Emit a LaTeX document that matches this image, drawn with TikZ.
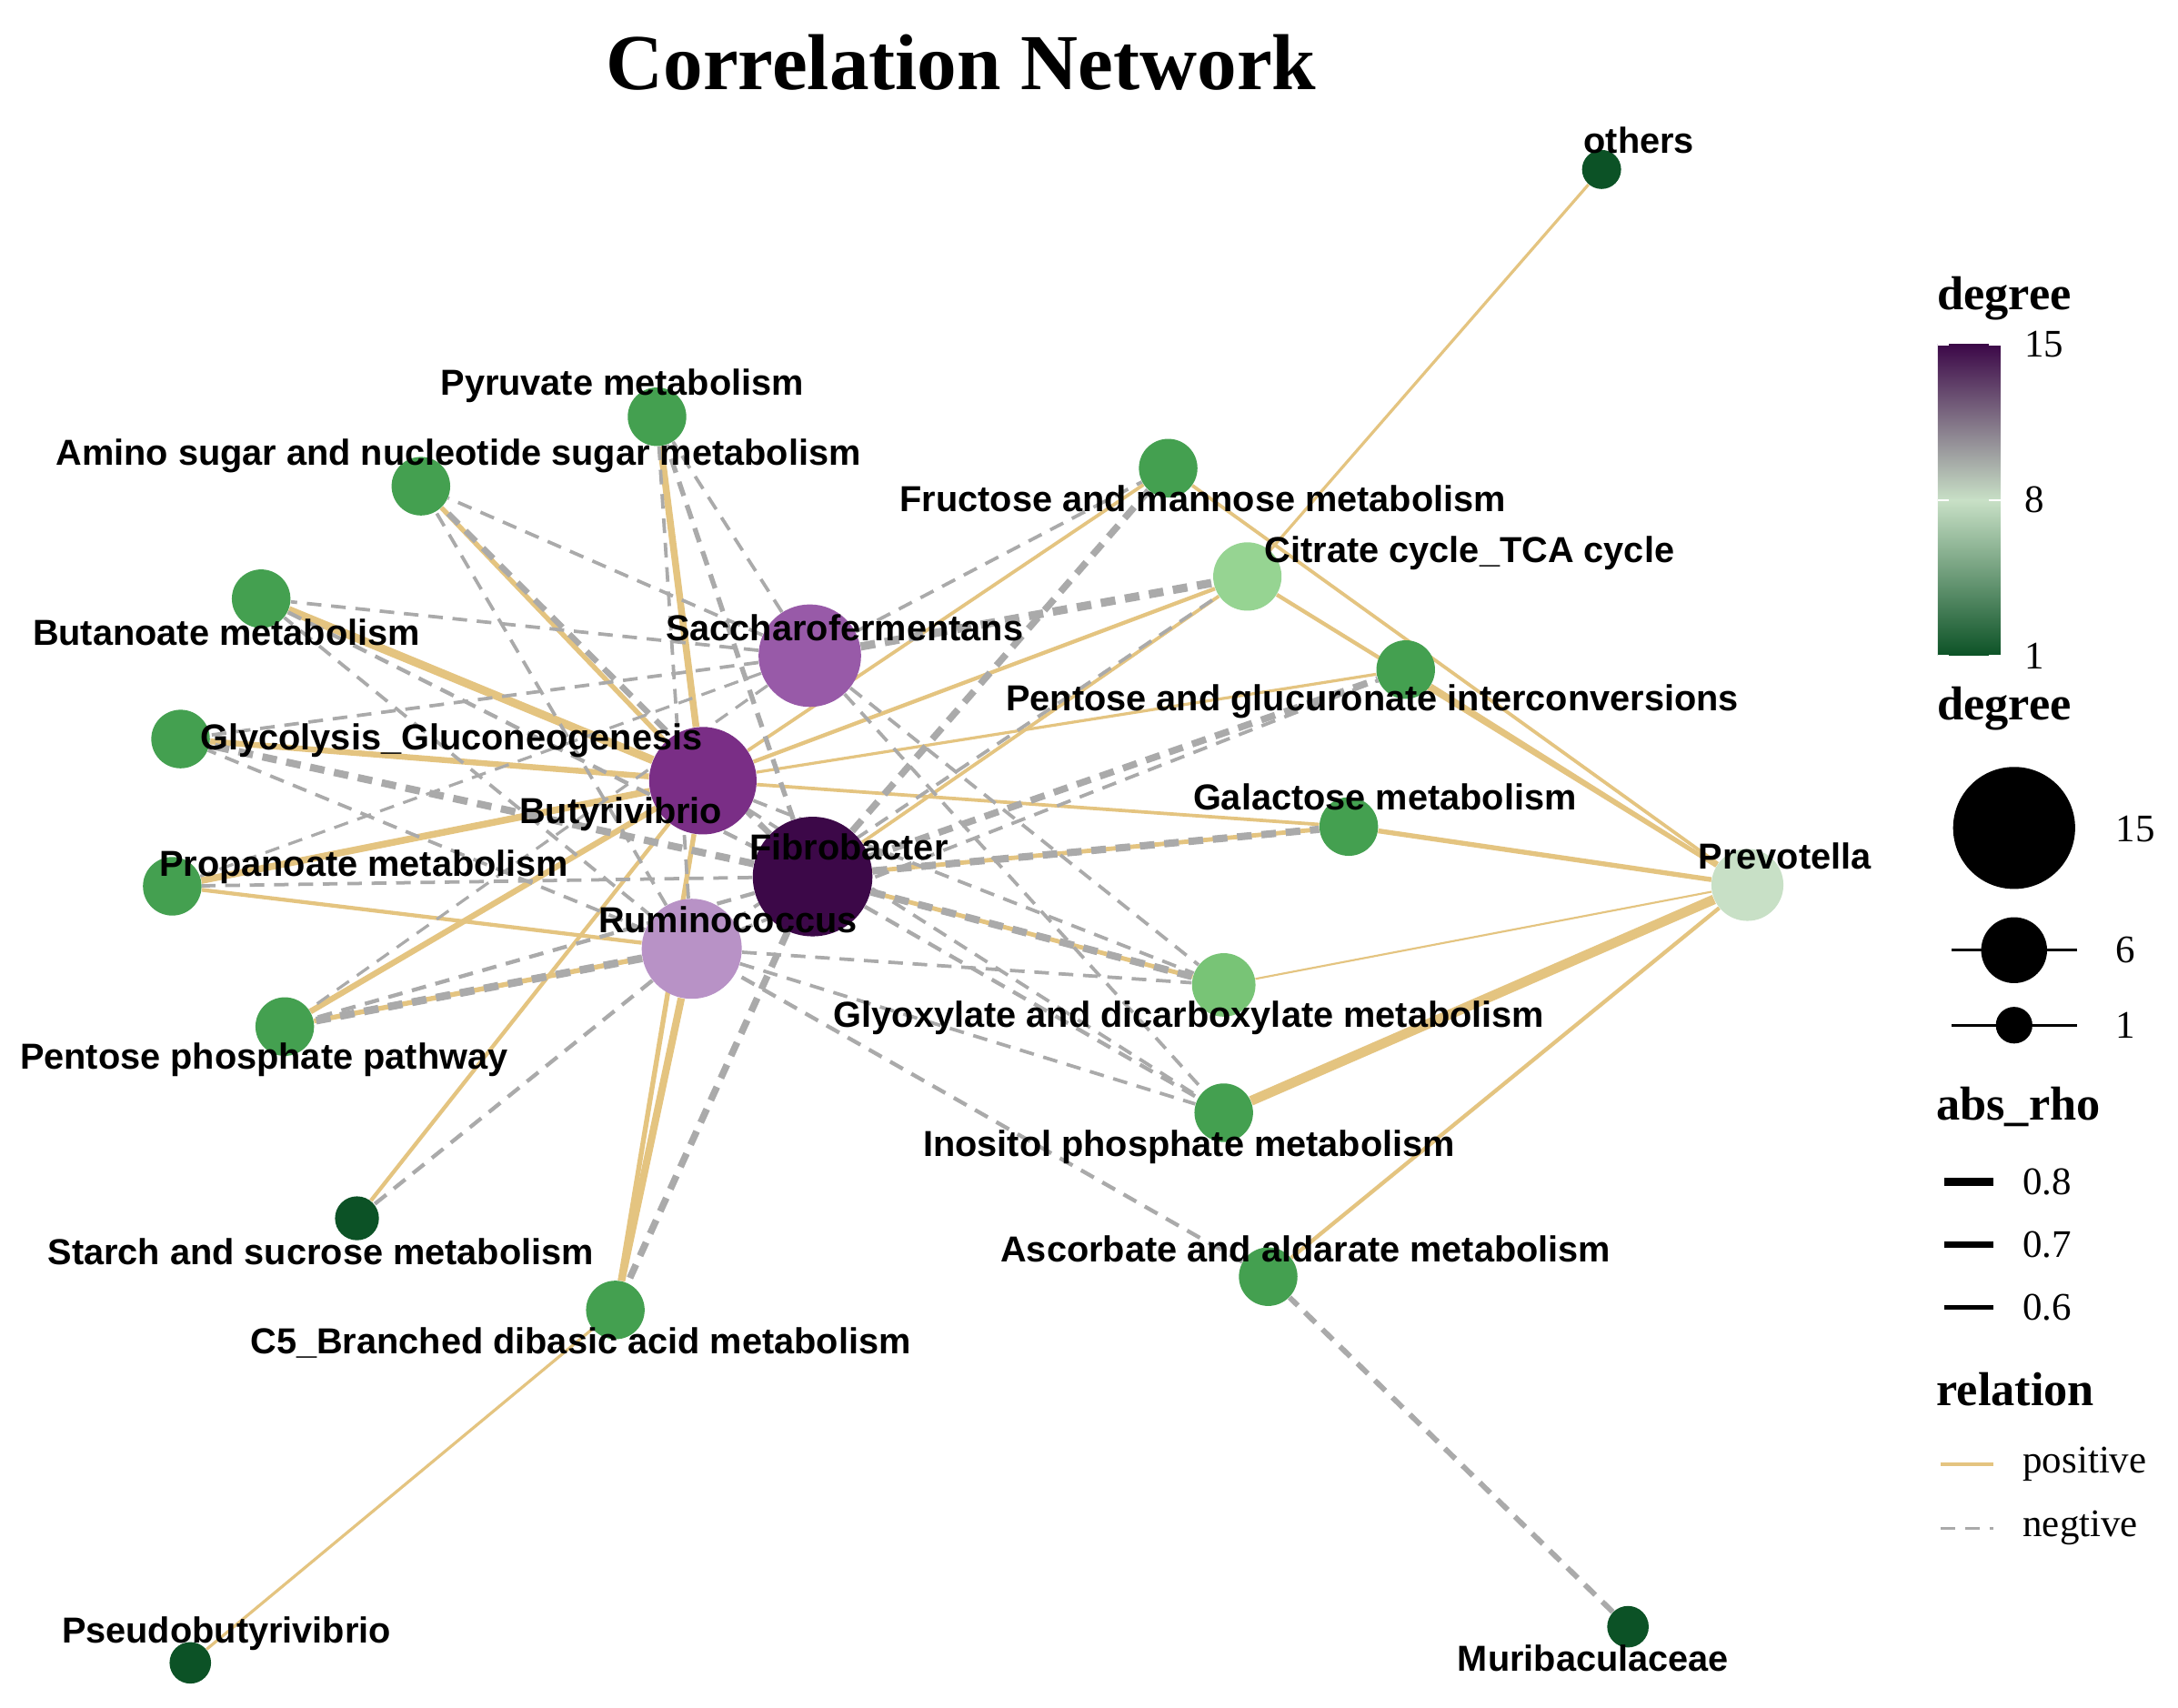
\documentclass[tikz,border=0pt]{standalone}
\usepackage{fontspec}
\setmainfont{Liberation Serif}
\newfontfamily\lab{Liberation Sans}
\usetikzlibrary{backgrounds}
\definecolor{posc}{RGB}{228,196,128}
\definecolor{negc}{RGB}{170,170,170}
\definecolor{dg}{RGB}{12,82,38}
\definecolor{mg}{RGB}{68,160,80}
\definecolor{lg}{RGB}{150,212,146}
\definecolor{lg2}{RGB}{120,196,118}
\definecolor{pv}{RGB}{200,224,198}
\definecolor{ru}{RGB}{184,146,198}
\definecolor{sa}{RGB}{152,90,168}
\definecolor{bu}{RGB}{122,46,134}
\definecolor{fi}{RGB}{60,8,72}
\begin{document}
\begin{tikzpicture}[x=0.02cm,y=-0.02cm,
  nd/.style={circle,inner sep=0pt,draw=none},
  lb/.style={font=\lab\bfseries\fontsize{14.8}{16}\selectfont,inner sep=0pt},
  posl/.style={draw=posc},
  negl/.style={draw=negc,dash pattern=on 6pt off 4pt},
  lgt/.style={font=\fontsize{16}{18}\selectfont,anchor=west,inner sep=0pt},
  lt/.style={font=\bfseries\fontsize{19.5}{22}\selectfont,inner sep=0pt}]
\useasboundingbox (0,0) rectangle (1568,1229);
\node[font=\bfseries\fontsize{32.5}{36}\selectfont] (title) at (692,45) {Correlation Network};
% nodes
\node[nd,fill=dg,minimum size=16pt] (oth) at (1153,122) {};
\node[nd,fill=mg,minimum size=24pt] (pyr) at (473,300) {};
\node[nd,fill=mg,minimum size=24pt] (ami) at (303,350) {};
\node[nd,fill=mg,minimum size=24pt] (fru) at (841,337) {};
\node[nd,fill=lg,minimum size=28pt] (cit) at (898,415) {};
\node[nd,fill=mg,minimum size=24pt] (but) at (188,431) {};
\node[nd,fill=sa,minimum size=42pt] (sac) at (583,472) {};
\node[nd,fill=mg,minimum size=24pt] (pgl) at (1012,482) {};
\node[nd,fill=mg,minimum size=24pt] (gly) at (130,532) {};
\node[nd,fill=bu,minimum size=44pt] (buty) at (506,562) {};
\node[nd,fill=fi,minimum size=49pt] (fib) at (585,631) {};
\node[nd,fill=mg,minimum size=24pt] (gal) at (971,595) {};
\node[nd,fill=pv,minimum size=29.5pt] (pre) at (1258,637) {};
\node[nd,fill=mg,minimum size=24pt] (pro) at (124,638) {};
\node[nd,fill=ru,minimum size=41pt] (rum) at (498,683) {};
\node[nd,fill=lg2,minimum size=26pt] (glx) at (881,709) {};
\node[nd,fill=mg,minimum size=24pt] (pph) at (205,739) {};
\node[nd,fill=mg,minimum size=24pt] (ino) at (881,801) {};
\node[nd,fill=dg,minimum size=18pt] (sta) at (257,877) {};
\node[nd,fill=mg,minimum size=24pt] (asc) at (913,919) {};
\node[nd,fill=mg,minimum size=24pt] (cfi) at (443,943) {};
\node[nd,fill=dg,minimum size=17pt] (pse) at (137,1197) {};
\node[nd,fill=dg,minimum size=17pt] (mur) at (1172,1171) {};
% edges
\begin{scope}[on background layer]
\fill[white] (0,0) rectangle (1568,1229);
\foreach \a/\b/\w in {oth/cit/1.2,pre/cit/1.6,pre/pgl/1.6,pre/gal/2,pre/glx/0.8,pre/ino/4,pre/asc/1.6,pre/fru/1.4,
 pse/cfi/1.2,buty/pyr/2.8,buty/ami/2,buty/but/3.4,buty/gly/2.4,buty/pro/2.8,buty/pph/2.4,buty/sta/1.6,buty/cfi/2,
 buty/cit/1.6,buty/pgl/1.2,buty/fru/1.4,fib/gal/1.8,fib/glx/1.8,fib/cit/1.4,rum/cfi/3,rum/pph/2,rum/pro/1.6,buty/gal/1.4}
 \draw[posl,line width=\w pt] (\a) -- (\b);
\foreach \a/\b/\w in {mur/asc/2.2,asc/rum/1.6,sac/but/1.4,sac/gly/1.4,sac/ami/1.4,sac/pyr/1.4,sac/fru/1.4,sac/cit/3.4,
 sac/glx/1.4,sac/ino/1.4,sac/pro/1.2,fib/ami/2.4,fib/pyr/2,fib/but/1.6,fib/gly/3,fib/pro/1.4,fib/fru/2.8,fib/pgl/2.8,
 fib/glx/3,fib/ino/1.6,fib/pph/1.6,fib/cfi/2.8,rum/sta/1.6,rum/cit/1.4,rum/ino/1.4,rum/glx/1.4,rum/pgl/1.4,rum/pph/3.2,
 rum/gly/1.4,rum/pyr/1.4,rum/ami/1.4,rum/but/1.4,fib/gal/3,buty/ino/1.4,sac/pph/1.2,buty/glx/1.4}
 \draw[negl,line width=\w pt] (\a) -- (\b);
\end{scope}
% labels
\node[lb] (l1) at (1180,101) {others};
\node[lb] (l2) at (448,278) {Pyruvate metabolism};
\node[lb] (l3) at (330,328) {Amino sugar and nucleotide sugar metabolism};
\node[lb] (l4) at (866,359) {Fructose and mannose metabolism};
\node[lb] (l5) at (1058,398) {Citrate cycle\_TCA cycle};
\node[lb] (l6) at (163,455) {Butanoate metabolism};
\node[lb] (l7) at (608,452) {Saccharofermentans};
\node[lb] (l8) at (988,505) {Pentose and glucuronate interconversions};
\node[lb] (l9) at (325,533) {Glycolysis\_Gluconeogenesis};
\node[lb] (l10) at (447,586) {Butyrivibrio};
\node[lb] (l11) at (611,610) {Fibrobacter};
\node[lb] (l12) at (997,574) {Galactose metabolism};
\node[lb] (l13) at (1285,616) {Prevotella};
\node[lb] (l14) at (262,624) {Propanoate metabolism};
\node[lb] (l15) at (524,662) {Ruminococcus};
\node[lb] (l16) at (856,733) {Glyoxylate and dicarboxylate metabolism};
\node[lb] (l17) at (190,763) {Pentose phosphate pathway};
\node[lb] (l18) at (856,826) {Inositol phosphate metabolism};
\node[lb] (l19) at (231,901) {Starch and sucrose metabolism};
\node[lb] (l20) at (940,899) {Ascorbate and aldarate metabolism};
\node[lb] (l21) at (418,967) {C5\_Branched dibasic acid metabolism};
\node[lb] (l22) at (163,1176) {Pseudobutyrivibrio};
\node[lb] (l23) at (1147,1194) {Muribaculaceae};
% legend
\node[lt] (d1) at (1443,215) {degree};
\shade[top color=fi,middle color=sa,bottom color=pv] (1395,248) rectangle (1440,360);
\shade[top color=pv,middle color=lg2,bottom color=dg] (1395,360) rectangle (1440,472);
\foreach \yy in {248,360,472}{\draw[white,line width=0.8pt] (1395,\yy)--(1403,\yy); \draw[white,line width=0.8pt] (1432,\yy)--(1440,\yy);}
\node[lgt] (c15) at (1457,248) {15};
\node[lgt] (c8) at (1457,360) {8};
\node[lgt] (c1) at (1457,472) {1};
\node[lt] (d2) at (1443,510) {degree};
\node[nd,fill=black,minimum size=50pt] (s15) at (1450,596) {};
\coordinate (s6a) at (1405,684); \coordinate (s6b) at (1495,684);
\coordinate (s1a) at (1405,738); \coordinate (s1b) at (1495,738);
\draw[line width=1pt] (s6a)--(s6b); \draw[line width=1pt] (s1a)--(s1b);
\node[nd,fill=black,minimum size=27pt] (s6) at (1450,684) {};
\node[nd,fill=black,minimum size=15pt] (s1) at (1450,738) {};
\node[lgt] (t15) at (1523,597) {15};
\node[lgt] (t6) at (1523,684) {6};
\node[lgt] (t1) at (1523,738) {1};
\node[lt] (ar) at (1453,797) {abs\_rho};
\coordinate (r1a) at (1400,851); \coordinate (r1b) at (1435,851);
\coordinate (r2a) at (1400,896); \coordinate (r2b) at (1435,896);
\coordinate (r3a) at (1400,941); \coordinate (r3b) at (1435,941);
\draw[line width=3.4pt] (r1a)--(r1b);
\draw[line width=2.6pt] (r2a)--(r2b);
\draw[line width=1.8pt] (r3a)--(r3b);
\node[lgt] (v8) at (1456,851) {0.8};
\node[lgt] (v7) at (1456,896) {0.7};
\node[lgt] (v6) at (1456,941) {0.6};
\node[lt] (rel) at (1451,1000) {relation};
\coordinate (p1) at (1397,1054); \coordinate (p2) at (1435,1054);
\coordinate (n1) at (1397,1100); \coordinate (n2) at (1435,1100);
\draw[posl,line width=1.2pt] (p1)--(p2);
\draw[negl,line width=1.2pt] (n1)--(n2);
\node[lgt] (vp) at (1456,1054) {positive};
\node[lgt] (vn) at (1456,1100) {negtive};
\end{tikzpicture}
\end{document}
